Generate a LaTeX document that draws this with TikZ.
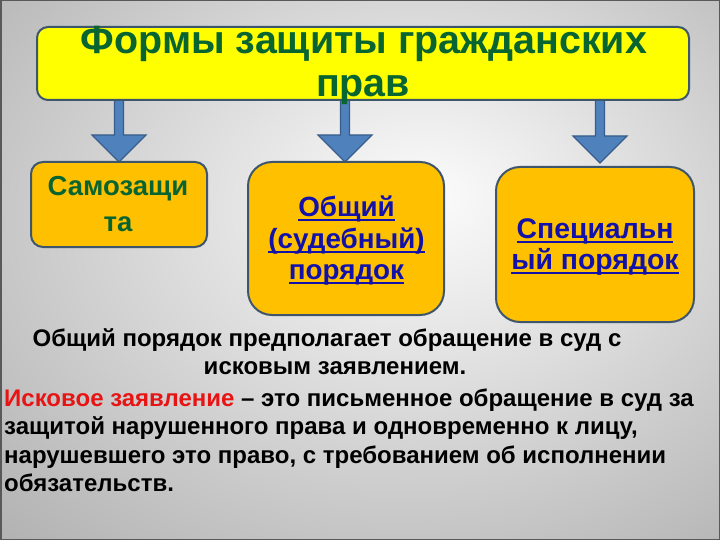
\documentclass[tikz,border=0pt]{standalone}
\usepackage{fontspec}
\setmainfont{Liberation Sans}
\usetikzlibrary{calc}
\definecolor{titlegreen}{RGB}{8,100,48}
\definecolor{titleyellow}{RGB}{255,255,0}
\definecolor{boxorange}{RGB}{255,192,0}
\definecolor{boxedge}{RGB}{62,86,108}
\definecolor{linkblue}{RGB}{18,18,170}
\definecolor{alertred}{RGB}{232,20,20}
\definecolor{arrowfill}{RGB}{79,129,189}
\definecolor{arrowedge}{RGB}{56,93,138}
\definecolor{bgA}{gray}{0.985}
\definecolor{bgB}{gray}{0.93}
\definecolor{bgC}{gray}{0.78}
\definecolor{bgD}{gray}{0.62}
\definecolor{bgE}{gray}{0.56}
\definecolor{framegray}{gray}{0.35}
\pgfdeclareradialshading{bgshade}{\pgfpoint{5bp}{7bp}}{color(0bp)=(bgA); color(8bp)=(bgB); color(28bp)=(bgC); color(50bp)=(bgD); color(75bp)=(bgE)}
\newlength\ulwidth
\newcommand\ulword[1]{\settowidth{\ulwidth}{#1}\rlap{#1}\rule[-0.19em]{\ulwidth}{0.08em}}
\begin{document}
\begin{tikzpicture}[x=1pt,y=-1pt,
  titlebox/.style={draw=boxedge, line width=2pt, fill=titleyellow, rounded corners=11pt, minimum width=652pt, minimum height=73pt, inner sep=0pt},
  orangebox/.style={draw=boxedge, line width=2pt, fill=boxorange, inner sep=0pt},
  titleline/.style={inner sep=0pt, anchor=base, text=titlegreen, font=\bfseries\fontsize{39.4}{44}\selectfont},
  greenline/.style={inner sep=0pt, anchor=base, text=titlegreen, font=\bfseries\fontsize{27.5}{32}\selectfont},
  blueline/.style={inner sep=0pt, anchor=base, text=linkblue, font=\bfseries\fontsize{27.8}{32}\selectfont},
  paraline/.style={inner sep=0pt, anchor=base, font=\bfseries\fontsize{24}{28}\selectfont},
  blockarrow/.style={draw=arrowedge, fill=arrowfill, line width=1.2pt, line join=miter,
    to path={let \p1=(\tikztostart), \p2=(\tikztotarget) in
      ({\x1-4.5pt},{\y1}) -- ({\x1-4.5pt},{\y2+27pt}) -- ({\x1-27pt},{\y2+27pt}) -- (\tikztotarget)
      -- ({\x1+27pt},{\y2+27pt}) -- ({\x1+4.5pt},{\y2+27pt}) -- ({\x1+4.5pt},{\y1}) -- cycle}}
]
\useasboundingbox (0,0) rectangle (720,540);
\shade[shading=bgshade] (0,0) rectangle (720,540);
\draw[framegray, line width=1.5pt] (0.75,0.75) rectangle (719.25,539.25);

% arrows
\coordinate (s1) at (119,100); \coordinate (e1) at (119,162);
\coordinate (s2) at (345,100); \coordinate (e2) at (345,162);
\coordinate (s3) at (600,100); \coordinate (e3) at (600,163);
\draw[blockarrow] (s1) to (e1);
\draw[blockarrow] (s2) to (e2);
\draw[blockarrow] (s3) to (e3);

% title
\node[titlebox] (title) at (363,63.5) {};
\node[titleline] (t1) at (364,53.5) {Формы защиты гражданских};
\node[titleline] (t2) at (363,96.5) {прав};

% boxes
\node[orangebox, rounded corners=12pt, minimum width=176pt, minimum height=85pt] (b1) at (119,204.5) {};
\node[orangebox, rounded corners=24pt, minimum width=196pt, minimum height=153pt] (b2) at (346,238.5) {};
\node[orangebox, rounded corners=24pt, minimum width=198pt, minimum height=155pt] (b3) at (595,244.5) {};

\node[greenline] (b1a) at (118,196) {Самозащи};
\node[greenline] (b1b) at (118,232) {та};

\node[blueline] (b2a) at (346.5,216) {\ulword{Общий}};
\node[blueline] (b2b) at (346.5,248) {\ulword{(судебный)}};
\node[blueline] (b2c) at (346.5,279) {\ulword{порядок}};

\node[blueline, font=\bfseries\fontsize{28.4}{32}\selectfont] (b3a) at (595,238) {\ulword{Специальн}};
\node[blueline, font=\bfseries\fontsize{28.4}{32}\selectfont] (b3b) at (595,269) {\ulword{ый порядок}};

% paragraph
\node[paraline] (p1) at (327,346) {Общий порядок предполагает обращение в суд с};
\node[paraline] (p2) at (335,374.5) {исковым заявлением.};
\node[paraline, anchor=base west] (p3) at (4,406) {\textcolor{alertred}{Исковое заявление} – это письменное обращение в суд за};
\node[paraline, anchor=base west] (p4) at (4,434.5) {защитой нарушенного права и одновременно к лицу,};
\node[paraline, anchor=base west] (p5) at (4,463) {нарушевшего это право, с требованием об исполнении};
\node[paraline, anchor=base west] (p6) at (4,491.5) {обязательств.};
\end{tikzpicture}
\end{document}
